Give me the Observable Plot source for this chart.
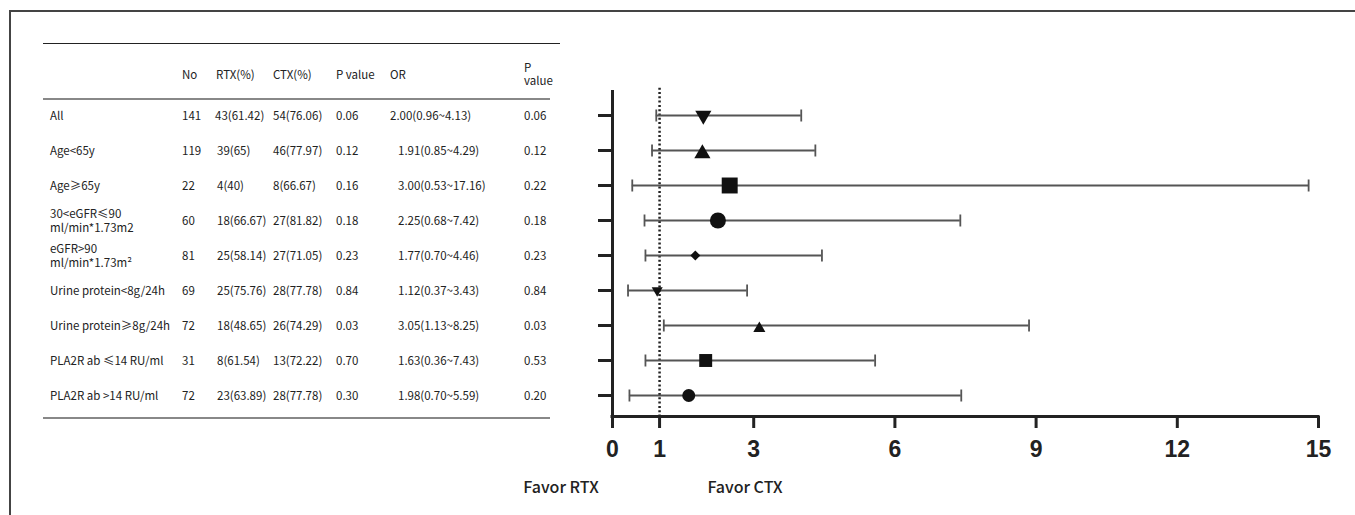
<!DOCTYPE html>
<html><head><meta charset="utf-8">
<script src="https://cdn.jsdelivr.net/npm/d3@7"></script>
<script src="https://cdn.jsdelivr.net/npm/@observablehq/plot@0.6"></script>
<style>
html,body{margin:0;padding:0;background:#fff;}
#page{position:relative;width:1355px;height:515px;overflow:hidden;background:#fff;font-family:"Noto Sans CJK SC","Noto Sans",sans-serif;color:#222;}
#border{position:absolute;left:9px;top:10px;width:1400px;height:600px;border-top:2px solid #444;border-left:2px solid #444;}
.cell{position:absolute;font-size:11.5px;line-height:14px;white-space:pre;transform:translateY(-50%);}
.rule{position:absolute;}
#chart{position:absolute;left:560px;top:0;}
.favor{position:absolute;font-size:16px;font-weight:500;color:#222;transform:translate(-50%,-50%);white-space:nowrap;}
</style></head>
<body><div id="page"><div id="border"></div><div id="chart"></div></div>
<script>
// ---- table data ----
const subgroups = ["All","Age<65y","Age≥65y","30<eGFR≤90\nml/min*1.73m2","eGFR>90\nml/min*1.73m²","Urine protein<8g/24h","Urine protein≥8g/24h","PLA2R ab ≤14 RU/ml","PLA2R ab >14 RU/ml"];
const nTotal = [141,119,22,60,81,69,72,31,72];
const rtxText = ["43(61.42)","39(65)","4(40)","18(66.67)","25(58.14)","25(75.76)","18(48.65)","8(61.54)","23(63.89)"];
const ctxText = ["54(76.06)","46(77.97)","8(66.67)","27(81.82)","27(71.05)","28(77.78)","26(74.29)","13(72.22)","28(77.78)"];
const pValue = ["0.06","0.12","0.16","0.18","0.23","0.84","0.03","0.70","0.30"];
const orText = ["2.00(0.96~4.13)","1.91(0.85~4.29)","3.00(0.53~17.16)","2.25(0.68~7.42)","1.77(0.70~4.46)","1.12(0.37~3.43)","3.05(1.13~8.25)","1.63(0.36~7.43)","1.98(0.70~5.59)"];
const pValue2 = ["0.06","0.12","0.22","0.18","0.23","0.84","0.03","0.53","0.20"];
const headers = ["No","RTX(%)","CTX(%)","P value","OR","P\nvalue"];

// ---- forest plot values (as drawn) ----
const orPlot = [1.93,1.91,2.49,2.24,1.76,0.95,3.12,1.98,1.62];
const loPlot = [0.93,0.84,0.42,0.68,0.70,0.33,1.09,0.70,0.36];
const hiPlot = [4.01,4.31,14.79,7.39,4.45,2.86,8.85,5.58,7.41];
const xTicks = [0,1,3,6,9,12,15];

// ---- marker styles ----
const markerShape = ["triangle","triangle","square","circle","diamond2","triangle","triangle","square","circle"];
const markerRotate = [180,0,0,0,0,180,0,0,0];
const markerR = [6,6,9,8,4.5,4.1,4.5,7.3,6.5];

const page = document.getElementById("page");
function add(cls, txt, left, top, extra) {
  const d = document.createElement("div");
  d.className = cls;
  d.textContent = txt;
  d.style.left = left + "px"; d.style.top = top + "px";
  if (extra) Object.assign(d.style, extra);
  page.appendChild(d);
  return d;
}
function rule(x1, x2, y, w, c) {
  const d = document.createElement("div");
  d.className = "rule";
  Object.assign(d.style, {left: x1+"px", top: (y - w/2)+"px", width: (x2-x1)+"px", height: w+"px", background: c});
  page.appendChild(d);
}
rule(43, 560, 43, 1, "#222");
rule(43, 550, 99, 2, "#888");
rule(43, 550, 418, 2, "#888");

const colX = [182, 216, 273, 336, 390, 524];
headers.forEach((h, j) => {
  if (j === 5) add("cell", h, colX[j], 74, {lineHeight: "13px"});
  else add("cell", h, colX[j], 74);
});
subgroups.forEach((s, i) => {
  const y = 115 + 35 * i;
  add("cell", s, 50, y);
  add("cell", String(nTotal[i]), 182, y);
  add("cell", rtxText[i], i === 0 ? 215 : 217, y);
  add("cell", ctxText[i], 273, y);
  add("cell", pValue[i], 336, y);
  add("cell", orText[i], i === 0 ? 390 : 398, y);
  add("cell", pValue2[i], 524, y);
});

const rows = subgroups.map((s, i) => ({
  idx: i + 1, or: orPlot[i], lo: loPlot[i], hi: hiPlot[i],
  shape: markerShape[i], rot: markerRotate[i], size: markerR[i]
}));

const capSymbol = {draw(ctx, size) { const h = Math.sqrt(size / Math.PI); ctx.moveTo(0, -h); ctx.lineTo(0, h); }};
const upTri = rows.filter(d => d.shape === "triangle" && d.rot === 0);
const others = rows.filter(d => !(d.shape === "triangle" && d.rot === 0));

const chart = Plot.plot({
  width: 795, height: 515,
  marginLeft: 52, marginRight: 37, marginTop: 90, marginBottom: 99,
  style: {color: "#222", background: "transparent", overflow: "visible"},
  x: {domain: [0, 15]},
  y: {domain: [0.286, 9.6], reverse: true},
  r: {type: "identity"},
  marks: [
    Plot.ruleX([1], {y1: 0.22, y2: 9.6, stroke: "#222", strokeWidth: 2.5, strokeDasharray: "2,2.3"}),
    Plot.ruleY(rows, {y: "idx", x1: "lo", x2: "hi", stroke: "#555", strokeWidth: 1.8}),
    Plot.dot(rows, {x: "lo", y: "idx", symbol: capSymbol, r: 6, stroke: "#555", strokeWidth: 1.8}),
    Plot.dot(rows, {x: "hi", y: "idx", symbol: capSymbol, r: 6, stroke: "#555", strokeWidth: 1.8}),
    Plot.dot(others, {x: "or", y: "idx", symbol: "shape", r: "size", rotate: "rot", fill: "#111", stroke: null}),
    Plot.dot(upTri, {x: "or", y: "idx", symbol: "shape", r: "size", dy: 3, fill: "#111", stroke: null}),
    Plot.axisY({ticks: rows.map(d => d.idx), tickFormat: () => "", tickSize: 14, strokeWidth: 3, label: null}),
    Plot.ruleX([0], {stroke: "#222", strokeWidth: 3}),
    Plot.ruleY([9.6], {stroke: "#222", strokeWidth: 3, strokeLinecap: "square"}),
    Plot.axisX({ticks: xTicks, tickSize: 12, tickPadding: 12, strokeWidth: 3, fontSize: 23, fontWeight: "bold", fontFamily: "Liberation Sans, Arial, sans-serif", label: null})
  ]
});
document.getElementById("chart").appendChild(chart);

add("favor", "Favor RTX", 561, 486);
add("favor", "Favor CTX", 745, 486);
</script>
</body></html>
